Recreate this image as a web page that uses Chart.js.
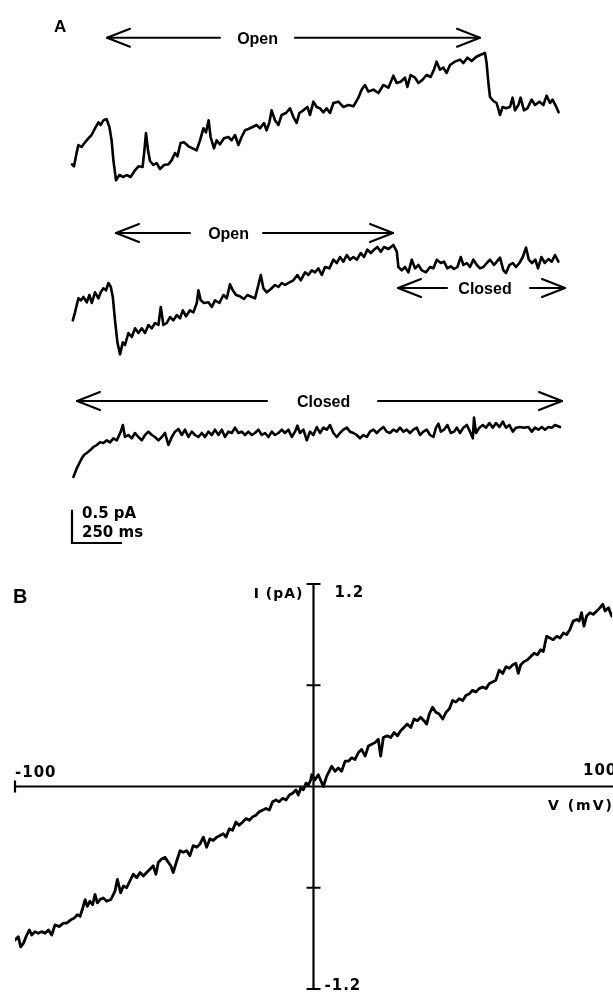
<!DOCTYPE html>
<html><head><meta charset="utf-8">
<script src="https://cdn.jsdelivr.net/npm/chart.js@4.4.0/dist/chart.umd.min.js"></script>
<style>
html,body{margin:0;padding:0;background:#fff;}
body{width:613px;height:992px;position:relative;overflow:hidden;}
canvas{position:absolute;left:0;}
#ca{top:0;} #cb{top:560px;}
</style></head><body>
<canvas id="ca" width="613" height="560"></canvas>
<canvas id="cb" width="613" height="432"></canvas>
<script>
// ---------- DATA (panel A: time in ms, current in pA relative to closed level) ----------
const trace1 = [[0,-0.89],[10,-0.92],[23,-0.72],[32,-0.60],[48,-0.63],[65,-0.56],[82,-0.50],[98,-0.45],[115,-0.35],[132,-0.26],[143,-0.30],[157,-0.23],[173,-0.21],[187,-0.33],[198,-0.53],[207,-0.83],[220,-1.13],[237,-1.05],[257,-1.08],[273,-1.05],[293,-1.08],[315,-0.98],[332,-0.92],[353,-0.93],[362,-0.68],[370,-0.42],[380,-0.68],[390,-0.84],[407,-0.90],[423,-0.87],[440,-0.96],[460,-0.90],[482,-0.89],[498,-0.83],[515,-0.72],[527,-0.77],[543,-0.57],[560,-0.56],[582,-0.62],[603,-0.65],[623,-0.68],[640,-0.53],[657,-0.35],[670,-0.41],[683,-0.23],[693,-0.48],[710,-0.65],[723,-0.53],[740,-0.59],[760,-0.50],[782,-0.48],[798,-0.53],[815,-0.45],[832,-0.60],[848,-0.48],[865,-0.38],[882,-0.36],[903,-0.33],[923,-0.30],[940,-0.35],[960,-0.27],[973,-0.38],[987,-0.26],[998,-0.08],[1015,-0.23],[1032,-0.30],[1048,-0.15],[1070,-0.12],[1090,-0.05],[1107,-0.18],[1123,-0.27],[1137,-0.12],[1157,-0.08],[1177,-0.03],[1190,-0.15],[1207,0.05],[1223,-0.03],[1240,-0.05],[1257,-0.11],[1273,-0.05],[1290,-0.12],[1307,0.03],[1332,0.05],[1357,-0.03],[1382,0.00],[1407,-0.02],[1432,0.11],[1448,0.23],[1465,0.30],[1482,0.20],[1507,0.23],[1532,0.18],[1557,0.30],[1582,0.26],[1607,0.44],[1623,0.33],[1643,0.35],[1665,0.41],[1677,0.27],[1693,0.45],[1715,0.41],[1732,0.33],[1753,0.38],[1773,0.45],[1793,0.42],[1810,0.53],[1823,0.65],[1840,0.53],[1857,0.56],[1873,0.48],[1890,0.60],[1915,0.65],[1940,0.68],[1957,0.63],[1977,0.71],[1998,0.66],[2020,0.72],[2040,0.75],[2065,0.78],[2073,0.63],[2082,0.33],[2090,0.12],[2107,0.06],[2123,0.03],[2140,-0.15],[2153,-0.03],[2170,-0.05],[2190,-0.03],[2203,0.11],[2215,-0.08],[2232,0.00],[2243,0.11],[2260,-0.08],[2277,-0.05],[2298,0.08],[2315,0.00],[2337,0.05],[2357,0.00],[2373,0.14],[2390,0.03],[2403,0.08],[2420,-0.02],[2433,-0.11]];

const trace2 = [[4,-0.83],[15,-0.71],[32,-0.50],[44,-0.53],[57,-0.48],[74,-0.56],[87,-0.45],[99,-0.57],[115,-0.41],[132,-0.50],[144,-0.41],[157,-0.35],[170,-0.38],[182,-0.27],[194,-0.33],[204,-0.48],[215,-0.83],[227,-1.16],[240,-1.34],[254,-1.16],[265,-1.20],[282,-1.02],[299,-1.08],[315,-0.95],[332,-1.02],[349,-0.95],[365,-1.02],[382,-0.90],[399,-0.95],[415,-0.87],[432,-0.90],[444,-0.63],[457,-0.90],[474,-0.87],[490,-0.78],[507,-0.83],[524,-0.75],[540,-0.80],[554,-0.68],[570,-0.77],[590,-0.68],[607,-0.71],[624,-0.57],[632,-0.38],[644,-0.53],[660,-0.57],[682,-0.56],[699,-0.63],[715,-0.53],[737,-0.57],[757,-0.45],[774,-0.50],[790,-0.29],[804,-0.38],[820,-0.45],[840,-0.47],[860,-0.51],[877,-0.45],[899,-0.48],[915,-0.50],[932,-0.30],[944,-0.15],[957,-0.35],[974,-0.41],[994,-0.36],[1015,-0.30],[1032,-0.33],[1049,-0.27],[1065,-0.30],[1087,-0.26],[1107,-0.23],[1127,-0.15],[1144,-0.23],[1165,-0.11],[1182,-0.15],[1199,-0.08],[1215,-0.11],[1232,-0.05],[1249,-0.15],[1265,-0.03],[1287,-0.05],[1307,0.08],[1324,0.03],[1340,0.12],[1357,0.05],[1374,0.15],[1390,0.08],[1407,0.12],[1424,0.08],[1444,0.18],[1460,0.12],[1477,0.23],[1494,0.18],[1510,0.23],[1527,0.27],[1544,0.20],[1560,0.27],[1582,0.24],[1607,0.30],[1624,0.20],[1632,-0.03],[1649,-0.08],[1665,-0.03],[1682,-0.11],[1699,0.08],[1715,-0.05],[1732,0.00],[1749,-0.08],[1770,-0.11],[1790,-0.03],[1807,-0.05],[1824,0.08],[1844,0.03],[1860,0.05],[1877,-0.05],[1894,-0.02],[1910,-0.06],[1927,-0.03],[1944,0.12],[1957,0.00],[1974,0.03],[1990,-0.03],[2007,0.08],[2024,0.00],[2040,-0.05],[2057,-0.03],[2074,0.03],[2090,0.08],[2110,0.00],[2124,0.05],[2140,0.11],[2157,-0.08],[2170,-0.12],[2187,0.00],[2204,0.03],[2220,-0.03],[2237,0.03],[2254,0.12],[2270,0.26],[2284,0.08],[2300,0.03],[2317,0.08],[2330,-0.05],[2347,0.12],[2364,0.03],[2382,0.09],[2399,0.05],[2415,0.15],[2432,0.05]];

const trace3 = [[7,-0.66],[24,-0.53],[37,-0.45],[49,-0.38],[60,-0.33],[74,-0.30],[90,-0.26],[107,-0.21],[124,-0.18],[140,-0.14],[157,-0.15],[174,-0.11],[190,-0.14],[207,-0.08],[224,-0.11],[244,0.02],[254,0.12],[265,-0.06],[282,-0.03],[299,-0.08],[315,0.00],[332,-0.06],[349,-0.11],[365,-0.03],[382,0.02],[399,-0.03],[415,-0.06],[432,-0.11],[449,-0.06],[465,0.00],[482,-0.18],[499,-0.06],[515,0.02],[532,0.06],[549,-0.03],[565,0.05],[582,-0.06],[599,0.02],[615,-0.03],[632,-0.06],[649,0.00],[665,-0.06],[682,0.02],[699,-0.03],[715,0.05],[732,-0.03],[749,0.05],[765,-0.06],[782,0.02],[799,0.00],[815,0.08],[832,0.00],[849,0.02],[865,-0.03],[882,0.02],[899,-0.03],[915,0.00],[932,0.05],[949,-0.03],[965,0.00],[982,-0.06],[999,0.02],[1015,-0.03],[1032,0.00],[1049,0.05],[1065,0.00],[1082,0.05],[1099,-0.06],[1115,0.02],[1127,0.11],[1140,0.00],[1157,0.05],[1174,-0.11],[1190,0.02],[1207,-0.03],[1224,0.09],[1240,0.00],[1257,0.08],[1274,0.05],[1290,0.12],[1307,0.00],[1324,-0.06],[1340,0.00],[1357,0.05],[1374,0.08],[1390,0.02],[1407,0.00],[1424,-0.03],[1440,-0.08],[1457,-0.03],[1474,-0.06],[1490,0.02],[1507,0.05],[1524,0.00],[1540,0.05],[1557,0.09],[1574,0.02],[1590,0.00],[1607,0.05],[1624,0.02],[1640,0.08],[1657,0.02],[1674,0.05],[1690,0.00],[1707,0.05],[1724,0.08],[1740,-0.03],[1757,0.02],[1774,0.05],[1790,-0.03],[1807,-0.06],[1820,0.08],[1832,0.14],[1844,0.02],[1860,0.05],[1877,0.12],[1894,0.00],[1910,0.02],[1924,0.08],[1940,0.00],[1957,0.08],[1974,0.12],[1990,0.02],[2004,-0.08],[2010,0.23],[2020,0.00],[2037,0.08],[2054,0.12],[2070,0.08],[2087,0.15],[2104,0.08],[2120,0.15],[2137,0.09],[2154,0.17],[2170,0.08],[2187,0.12],[2204,0.02],[2220,0.08],[2240,0.09],[2260,0.08],[2282,0.09],[2299,0.02],[2315,0.08],[2332,0.05],[2349,0.09],[2365,0.05],[2382,0.09],[2399,0.08],[2415,0.12],[2440,0.09]];

const scaleBarCurrent = 0.5;   // pA
const scaleBarTime = 250;      // ms

// ---------- DATA (panel B: voltage in mV, current in pA) ----------
const ivCurve = [[-100.0,-0.91],[-98.9,-0.89],[-98.1,-0.95],[-97.2,-0.93],[-96.3,-0.89],[-95.2,-0.85],[-94.4,-0.88],[-93.3,-0.86],[-92.2,-0.87],[-91.1,-0.86],[-89.9,-0.87],[-88.8,-0.85],[-87.7,-0.88],[-86.6,-0.82],[-85.2,-0.83],[-83.8,-0.81],[-82.7,-0.81],[-81.3,-0.79],[-80.2,-0.78],[-79.1,-0.76],[-78.2,-0.77],[-77.3,-0.72],[-76.5,-0.67],[-75.8,-0.71],[-74.9,-0.68],[-74.0,-0.70],[-73.2,-0.64],[-72.4,-0.69],[-71.5,-0.67],[-70.4,-0.66],[-69.3,-0.68],[-67.9,-0.67],[-66.5,-0.62],[-65.7,-0.55],[-64.6,-0.63],[-63.7,-0.59],[-62.6,-0.60],[-61.5,-0.56],[-60.4,-0.52],[-59.2,-0.54],[-58.1,-0.51],[-57.0,-0.53],[-55.9,-0.51],[-54.8,-0.49],[-53.7,-0.47],[-52.8,-0.52],[-52.0,-0.45],[-50.9,-0.43],[-49.7,-0.42],[-48.6,-0.45],[-47.8,-0.47],[-47.0,-0.51],[-45.8,-0.44],[-44.7,-0.38],[-43.6,-0.39],[-42.5,-0.38],[-41.4,-0.41],[-40.3,-0.35],[-39.1,-0.36],[-38.0,-0.34],[-36.9,-0.30],[-35.8,-0.36],[-34.7,-0.31],[-33.6,-0.32],[-32.4,-0.30],[-31.3,-0.29],[-30.2,-0.28],[-29.3,-0.30],[-28.2,-0.25],[-27.1,-0.26],[-26.0,-0.21],[-24.9,-0.23],[-23.7,-0.21],[-22.6,-0.19],[-21.5,-0.20],[-20.4,-0.18],[-19.3,-0.17],[-18.2,-0.15],[-17.0,-0.14],[-15.9,-0.13],[-14.8,-0.14],[-13.7,-0.09],[-12.6,-0.08],[-11.5,-0.09],[-10.3,-0.07],[-9.2,-0.08],[-8.1,-0.05],[-7.0,-0.04],[-5.9,-0.02],[-5.1,-0.05],[-4.3,-0.01],[-3.4,-0.02],[-2.5,0.02],[-1.7,0.01],[-0.9,0.04],[-0.6,0.07],[0.5,0.04],[1.6,0.07],[3.3,0.00],[4.4,0.06],[6.1,0.12],[7.2,0.09],[8.3,0.11],[9.4,0.09],[10.6,0.15],[11.7,0.15],[12.8,0.17],[13.9,0.16],[15.0,0.20],[16.1,0.22],[17.3,0.18],[18.4,0.24],[19.5,0.25],[20.6,0.26],[21.7,0.28],[22.5,0.18],[23.4,0.29],[24.7,0.30],[25.9,0.29],[27.0,0.32],[28.1,0.30],[29.2,0.33],[30.3,0.35],[31.4,0.37],[32.6,0.35],[33.7,0.40],[34.8,0.39],[35.9,0.41],[37.0,0.39],[37.9,0.37],[38.8,0.43],[39.9,0.47],[41.0,0.44],[42.1,0.43],[43.3,0.40],[44.4,0.44],[45.5,0.46],[46.6,0.51],[47.7,0.50],[48.8,0.52],[50.0,0.51],[51.1,0.54],[52.2,0.55],[53.3,0.57],[54.4,0.56],[55.5,0.58],[56.7,0.59],[57.8,0.58],[58.9,0.61],[60.0,0.62],[61.1,0.63],[62.2,0.69],[63.4,0.67],[64.5,0.71],[65.6,0.70],[66.7,0.72],[67.8,0.73],[68.6,0.67],[69.4,0.72],[70.5,0.74],[71.6,0.75],[72.8,0.77],[73.9,0.79],[75.0,0.78],[76.1,0.81],[77.0,0.80],[78.1,0.89],[79.2,0.88],[80.3,0.87],[81.5,0.89],[82.6,0.88],[83.7,0.91],[84.8,0.90],[85.9,0.93],[87.0,0.98],[88.2,0.99],[89.0,0.98],[89.8,1.03],[90.6,0.95],[91.5,1.01],[92.6,1.03],[93.7,1.02],[94.9,1.04],[96.0,1.06],[96.9,1.08],[97.7,1.04],[98.8,1.06],[99.9,1.01]];

const vRange = [-100, 100];
const iTicks = [-1.2, -0.6, 0, 0.6, 1.2];
const vTickLabels = ['-100', '100'];
const iTickLabels = ['-1.2', '1.2'];

// ---------- LAYOUT (not data) ----------
const INK = '#000';
const traceOffsets = [6.825, 4.425, 1.905];   // vertical placement of each sweep (pA units)
const scaleBarBase = 0.255;                   // pA level of scale-bar foot
const arrowsA = [
  {label:'Open',   y:7.834, from:175,  to:2040, gapFrom:740,  gapTo:1115, textAt:928},
  {label:'Open',   y:4.905, from:220,  to:1605, gapFrom:590,  gapTo:955,  textAt:783},
  {label:'Closed', y:4.080, from:1630, to:2465, gapFrom:1875, gapTo:2290, textAt:2065},
  {label:'Closed', y:2.385, from:25,   to:2450, gapFrom:975,  gapTo:1530, textAt:1258}
];

function toXY(arr, off){ return arr.map(p => ({x:p[0], y:p[1] + (off||0)})); }

function head(ctx, x, y, dir){
  ctx.beginPath();
  ctx.moveTo(x - dir*23, y - 9);
  ctx.lineTo(x, y);
  ctx.lineTo(x - dir*23, y + 9);
  ctx.stroke();
}

const panelAPlugin = {
  id:'panelA',
  afterDatasetsDraw(chart){
    const ctx = chart.ctx, xs = chart.scales.x, ys = chart.scales.y;
    ctx.save();
    ctx.strokeStyle = INK; ctx.fillStyle = INK;
    ctx.lineWidth = 2.1; ctx.lineCap = 'round'; ctx.lineJoin = 'round';
    ctx.font = 'bold 16px "Liberation Sans", Arial, sans-serif';
    ctx.textAlign = 'center'; ctx.textBaseline = 'alphabetic';
    arrowsA.forEach(a => {
      const y = ys.getPixelForValue(a.y);
      const x1 = xs.getPixelForValue(a.from), x2 = xs.getPixelForValue(a.to);
      const g1 = xs.getPixelForValue(a.gapFrom), g2 = xs.getPixelForValue(a.gapTo);
      ctx.beginPath();
      ctx.moveTo(x1, y); ctx.lineTo(g1, y);
      ctx.moveTo(g2, y); ctx.lineTo(x2, y);
      ctx.stroke();
      head(ctx, x1, y, -1); head(ctx, x2, y, 1);
      ctx.fillText(a.label, xs.getPixelForValue(a.textAt), y + 6);
    });
    // panel letter
    ctx.textAlign = 'left';
    ctx.font = 'bold 17px "Liberation Sans", Arial, sans-serif';
    ctx.fillText('A', 54, 32);
    // scale bar labels
    const sx = xs.getPixelForValue(0);
    ctx.font = 'bold 15px "DejaVu Sans", sans-serif';
    ctx.fillText(scaleBarCurrent + ' pA', sx + 10, ys.getPixelForValue(scaleBarBase + scaleBarCurrent) + 8);
    ctx.fillText(scaleBarTime + ' ms', sx + 10, ys.getPixelForValue(scaleBarBase) - 6);
    ctx.restore();
  }
};

const lineStyle = {borderColor:INK, borderWidth:2.6, pointRadius:0, tension:0, fill:false, borderJoinStyle:'round', borderCapStyle:'round'};

new Chart(document.getElementById('ca'), {
  type:'line',
  data:{datasets:[
    Object.assign({data:toXY(trace1, traceOffsets[0])}, lineStyle),
    Object.assign({data:toXY(trace2, traceOffsets[1])}, lineStyle),
    Object.assign({data:toXY(trace3, traceOffsets[2])}, lineStyle),
    Object.assign({data:[{x:0,y:scaleBarBase+scaleBarCurrent},{x:0,y:scaleBarBase},{x:scaleBarTime,y:scaleBarBase}]}, lineStyle, {borderWidth:2.2, borderJoinStyle:'miter', borderCapStyle:'butt'})
  ]},
  options:{
    responsive:false, animation:false, devicePixelRatio:1,
    layout:{padding:0},
    plugins:{legend:{display:false}, tooltip:{enabled:false}},
    scales:{
      x:{type:'linear', min:-360, max:2705, display:false},
      y:{type:'linear', min:0, max:8.4, display:false}
    }
  },
  plugins:[panelAPlugin]
});

const panelBPlugin = {
  id:'panelB',
  beforeDatasetsDraw(chart){
    const ctx = chart.ctx, xs = chart.scales.x, ys = chart.scales.y;
    const x0 = xs.getPixelForValue(0), y0 = ys.getPixelForValue(0);
    const xl = xs.getPixelForValue(vRange[0]);
    ctx.save();
    ctx.strokeStyle = INK; ctx.lineWidth = 2.2; ctx.lineCap = 'butt';
    ctx.beginPath();
    ctx.moveTo(xl, y0); ctx.lineTo(chart.width, y0);
    ctx.moveTo(xl, y0 - 6); ctx.lineTo(xl, y0 + 6);
    ctx.moveTo(x0, ys.getPixelForValue(iTicks[iTicks.length-1])); ctx.lineTo(x0, ys.getPixelForValue(iTicks[0]));
    iTicks.forEach(t => { if (t !== 0){ const y = ys.getPixelForValue(t); ctx.moveTo(x0 - 7, y); ctx.lineTo(x0 + 7, y);} });
    ctx.stroke();
    ctx.restore();
  },
  afterDatasetsDraw(chart){
    const ctx = chart.ctx, xs = chart.scales.x, ys = chart.scales.y;
    const x0 = xs.getPixelForValue(0), y0 = ys.getPixelForValue(0);
    ctx.save();
    ctx.fillStyle = INK; ctx.textBaseline = 'alphabetic';
    ctx.font = 'bold 20px "Liberation Sans", Arial, sans-serif';
    ctx.textAlign = 'left';
    ctx.fillText('B', 13, 43);
    ctx.font = 'bold 15px "DejaVu Sans", sans-serif';
    if ('letterSpacing' in ctx) ctx.letterSpacing = '1px';
    ctx.fillText(vTickLabels[0], xs.getPixelForValue(vRange[0]), y0 - 10);
    ctx.fillText(vTickLabels[1], xs.getPixelForValue(vRange[1]) - 29, y0 - 12);
    ctx.fillText(iTickLabels[1], x0 + 21, ys.getPixelForValue(1.2) + 13);
    ctx.fillText(iTickLabels[0], x0 + 11, ys.getPixelForValue(-1.2) + 1);
    ctx.font = 'bold 14px "DejaVu Sans", sans-serif';
    if ('letterSpacing' in ctx) ctx.letterSpacing = '1px';
    ctx.textAlign = 'right';
    ctx.fillText('I (pA)', x0 - 10, ys.getPixelForValue(1.2) + 14);
    ctx.textAlign = 'left';
    if ('letterSpacing' in ctx) ctx.letterSpacing = '2px';
    ctx.fillText('V (mV)', xs.getPixelForValue(vRange[1]) - 64, y0 + 23);
    ctx.restore();
  }
};

new Chart(document.getElementById('cb'), {
  type:'line',
  data:{datasets:[Object.assign({data:toXY(ivCurve)}, lineStyle, {borderWidth:2.8})]},
  options:{
    responsive:false, animation:false, devicePixelRatio:1,
    layout:{padding:{left:15, right:1, top:24, bottom:3}},
    plugins:{legend:{display:false}, tooltip:{enabled:false}},
    scales:{
      x:{type:'linear', min:vRange[0], max:vRange[1], display:false},
      y:{type:'linear', min:iTicks[0], max:iTicks[iTicks.length-1], display:false}
    }
  },
  plugins:[panelBPlugin]
});
</script>
</body></html>
